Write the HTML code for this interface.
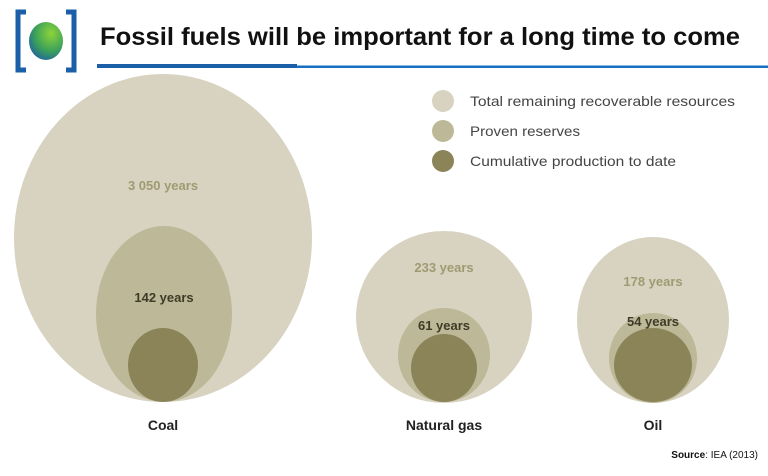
<!DOCTYPE html>
<html><head><style>
body{margin:0;background:#fff;width:768px;height:471px;overflow:hidden}
</style></head><body>
<svg width="768" height="471" viewBox="0 0 768 471" xmlns="http://www.w3.org/2000/svg" font-family="Liberation Sans, sans-serif">
<defs><radialGradient id="g" cx="0.65" cy="0.3" r="0.8"><stop offset="0" stop-color="#8dd33a"/><stop offset="0.6" stop-color="#3aa05a"/><stop offset="1" stop-color="#1e5fa0"/></radialGradient></defs>
<path d="M26 12 H18 V70 H26 M66 12 H74 V70 H66" fill="none" stroke="#1a5fa8" stroke-width="5"/>
<ellipse cx="46" cy="41" rx="17" ry="19" fill="url(#g)"/>
<text x="100" y="45" font-size="25" font-weight="bold" fill="#111" textLength="640" lengthAdjust="spacingAndGlyphs">Fossil fuels will be important for a long time to come</text>
<rect x="97" y="64" width="200" height="4" fill="#1a5fa8"/>
<rect x="297" y="65.5" width="471" height="2.5" fill="#1a6fc0"/>
<g>
<ellipse cx="163" cy="238" rx="149" ry="164" fill="#d7d3c0"/>
<ellipse cx="164" cy="314" rx="68" ry="88" fill="#bdb897"/>
<ellipse cx="163" cy="365" rx="35" ry="37" fill="#8b8459"/>
<ellipse cx="444" cy="317" rx="88" ry="86" fill="#d7d3c0"/>
<ellipse cx="444" cy="355" rx="46" ry="47" fill="#bdb897"/>
<ellipse cx="444" cy="368" rx="33" ry="34" fill="#8b8459"/>
<ellipse cx="653" cy="320" rx="76" ry="83" fill="#d7d3c0"/>
<ellipse cx="653" cy="358" rx="44" ry="45" fill="#bdb897"/>
<ellipse cx="653" cy="365" rx="39" ry="37" fill="#8b8459"/>
</g>
<g font-size="13" text-anchor="middle" font-weight="bold">
<text x="163" y="190" fill="#a09a72">3 050 years</text>
<text x="164" y="302" fill="#3e3b28">142 years</text>
<text x="444" y="272" fill="#a09a72">233 years</text>
<text x="444" y="330" fill="#3e3b28">61 years</text>
<text x="653" y="286" fill="#a09a72">178 years</text>
<text x="653" y="326" fill="#3e3b28">54 years</text>
<text x="163" y="430" fill="#222" font-size="14">Coal</text>
<text x="444" y="430" fill="#222" font-size="14">Natural gas</text>
<text x="653" y="430" fill="#222" font-size="14">Oil</text>
</g>
<circle cx="443" cy="101" r="11" fill="#d7d3c0"/>
<circle cx="443" cy="131" r="11" fill="#bdb897"/>
<circle cx="443" cy="161" r="11" fill="#8b8459"/>
<g font-size="14" fill="#444">
<text x="470" y="106" textLength="265" lengthAdjust="spacingAndGlyphs">Total remaining recoverable resources</text>
<text x="470" y="136" textLength="110" lengthAdjust="spacingAndGlyphs">Proven reserves</text>
<text x="470" y="166" textLength="206" lengthAdjust="spacingAndGlyphs">Cumulative production to date</text>
</g>
<text x="758" y="458" font-size="10" text-anchor="end" fill="#111"><tspan font-weight="bold">Source</tspan>: IEA (2013)</text>
</svg>
</body></html>
